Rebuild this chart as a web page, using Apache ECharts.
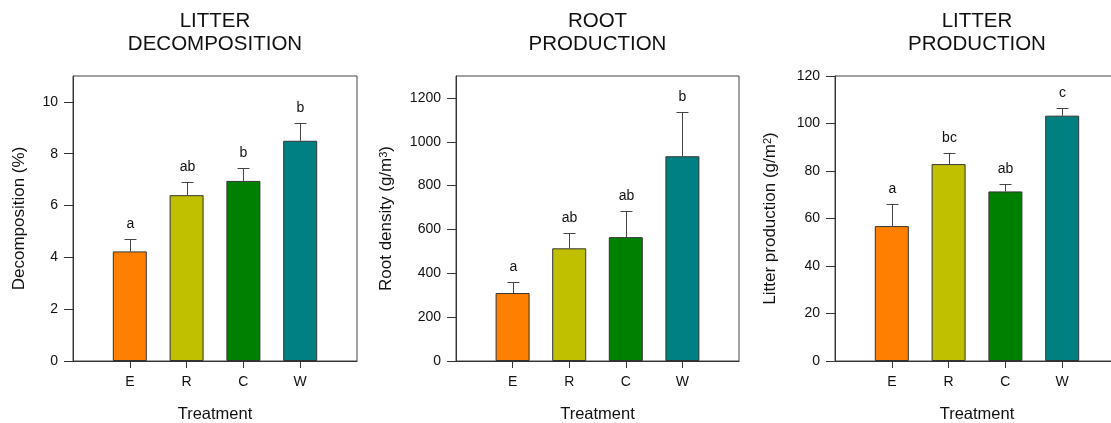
<!DOCTYPE html>
<html>
<head>
<meta charset="utf-8">
<script src="https://cdn.jsdelivr.net/npm/echarts@6/dist/echarts.min.js"></script>
<style>
html,body{margin:0;padding:0;background:#fff;}
#chart{width:1111px;height:423px;}
</style>
</head>
<body>
<div id="chart"></div>
<script>
const categories = ['E', 'R', 'C', 'W'];
const barColors = ['#ff8000', '#c0c000', '#008000', '#008080'];

const decompMean = [4.23, 6.40, 6.95, 8.50];
const decompErr = [0.47, 0.50, 0.50, 0.70];
const decompLetters = ['a', 'ab', 'b', 'b'];
const decompTicks = [0, 2, 4, 6, 8, 10];

const rootMean = [310, 514, 565, 934];
const rootErr = [52, 72, 119, 200];
const rootLetters = ['a', 'ab', 'ab', 'b'];
const rootTicks = [0, 200, 400, 600, 800, 1000, 1200];

const litterMean = [56.8, 82.9, 71.4, 103.3];
const litterErr = [9.5, 4.8, 3.1, 3.1];
const litterLetters = ['a', 'bc', 'ab', 'c'];
const litterTicks = [0, 20, 40, 60, 80, 100, 120];

const titles = ['LITTER\nDECOMPOSITION', 'ROOT\nPRODUCTION', 'LITTER\nPRODUCTION'];
const xName = 'Treatment';

const FONT = 'Liberation Sans, Arial, sans-serif';
const axisCats = [' '].concat(categories).concat(['  ']);

const panels = [
  {mean: decompMean, err: decompErr, letters: decompLetters, ticks: decompTicks, max: 11, interval: 1,
   grid: {left: 73, top: 76, width: 284, height: 285}, yName: 'Decomposition (%)', nameGap: 45, titleX: 215},
  {mean: rootMean, err: rootErr, letters: rootLetters, ticks: rootTicks, max: 1300, interval: 100,
   grid: {left: 456, top: 76, width: 283, height: 285}, yName: 'Root density (g/m{sup|3})', nameGap: 61, titleX: 597.5},
  {mean: litterMean, err: litterErr, letters: litterLetters, ticks: litterTicks, max: 120, interval: 20,
   grid: {left: 835, top: 76, width: 284, height: 285}, yName: 'Litter production (g/m{sup|2})', nameGap: 56, titleX: 977}
];

const option = {
  animation: false,
  backgroundColor: '#fff',
  title: panels.map((p, i) => ({
    text: titles[i], left: p.titleX, top: 10, textAlign: 'center', padding: 0,
    textStyle: {fontFamily: FONT, fontSize: 20.5, fontWeight: 'normal', color: '#111', lineHeight: 23}
  })),
  grid: panels.map(p => Object.assign({show: true, borderColor: '#444', borderWidth: 1, backgroundColor: 'transparent',
    containLabel: false, outerBoundsMode: 'none'}, p.grid)),
  xAxis: panels.map((p, i) => ({
    type: 'category', gridIndex: i, data: axisCats, boundaryGap: false,
    name: xName, nameLocation: 'middle', nameGap: 45,
    nameTextStyle: {fontFamily: FONT, fontSize: 16.5, color: '#111'},
    axisLine: {lineStyle: {color: '#333', width: 1}},
    axisTick: {length: 7, lineStyle: {color: '#333'}, interval: (idx, v) => v.trim() !== ''},
    axisLabel: {fontFamily: FONT, fontSize: 14, color: '#111', margin: 14, interval: 0},
    splitLine: {show: false}
  })),
  yAxis: panels.map((p, i) => ({
    type: 'value', gridIndex: i, min: 0, max: p.max, interval: p.interval,
    name: p.yName, nameLocation: 'middle', nameGap: p.nameGap,
    nameTextStyle: {fontFamily: FONT, fontSize: 17, color: '#111',
      rich: {sup: {fontFamily: FONT, fontSize: 11, color: '#111', verticalAlign: 'top', lineHeight: 11, padding: [0, 0, 8, 0]}}},
    axisLine: {show: true, lineStyle: {color: '#333', width: 1}},
    axisTick: {show: true, length: 9, lineStyle: {color: '#333'}, customValues: p.ticks},
    axisLabel: {fontFamily: FONT, fontSize: 14, color: '#111', margin: 15, customValues: p.ticks,
      formatter: v => String(v)},
    splitLine: {show: false}
  })),
  series: []
};

panels.forEach((p, i) => {
  option.series.push({
    type: 'bar', xAxisIndex: i, yAxisIndex: i, barWidth: 34,
    data: p.mean.map((v, k) => ({value: [k + 1, v], itemStyle: {color: barColors[k]}})),
    itemStyle: {borderColor: '#333', borderWidth: 1},
    z: 2
  });
  option.series.push({
    type: 'custom', xAxisIndex: i, yAxisIndex: i, z: 3, clip: false,
    data: p.mean.map((v, k) => [k + 1, v, p.err[k]]),
    renderItem: function (params, api) {
      const x = api.value(0), m = api.value(1), e = api.value(2);
      const base = api.coord([x, m]);
      const top = api.coord([x, m + e]);
      const px = Math.round(base[0]) + 0.5;
      const ty = Math.round(top[1]) + 0.5;
      return {
        type: 'group',
        children: [
          {type: 'line', shape: {x1: px, y1: base[1], x2: px, y2: ty}, style: {stroke: '#444', lineWidth: 1}},
          {type: 'line', shape: {x1: px - 6, y1: ty, x2: px + 6, y2: ty}, style: {stroke: '#444', lineWidth: 1}},
          {type: 'text', style: {text: p.letters[params.dataIndex], x: px, y: ty - 8, align: 'center', verticalAlign: 'bottom',
            fontFamily: FONT, fontSize: 14, fill: '#111'}}
        ]
      };
    }
  });
});

const chart = echarts.init(document.getElementById('chart'), null, {renderer: 'canvas'});
chart.setOption(option);
</script>
</body>
</html>
